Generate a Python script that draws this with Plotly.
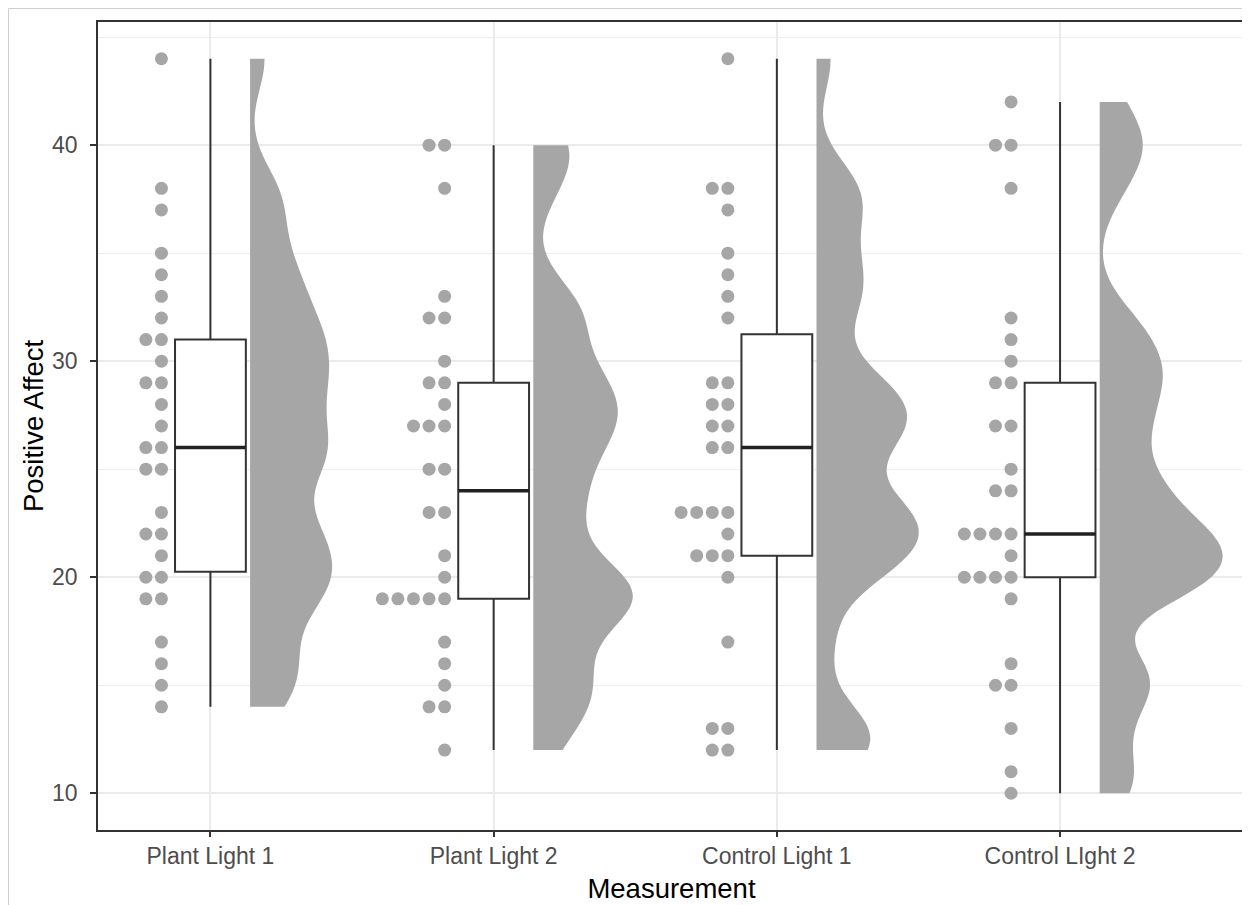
import numpy as np
import plotly.graph_objects as go
from collections import Counter

# ---------------- data ----------------
categories = ["Plant Light 1", "Plant Light 2", "Control Light 1", "Control LIght 2"]
plant_light_1 = [44, 38, 37, 35, 34, 33, 32, 31, 31, 30, 29, 29, 28, 27, 26, 26,
                 25, 25, 23, 22, 22, 21, 20, 20, 19, 19, 17, 16, 15, 14]
plant_light_2 = [40, 40, 38, 33, 32, 32, 30, 29, 29, 28, 27, 27, 27, 25, 25, 23,
                 23, 21, 20, 19, 19, 19, 19, 19, 17, 16, 15, 14, 14, 12]
control_light_1 = [44, 38, 38, 37, 35, 34, 33, 32, 29, 29, 28, 28, 27, 27, 26, 26,
                   23, 23, 23, 23, 22, 21, 21, 21, 20, 17, 13, 13, 12, 12]
control_light_2 = [42, 40, 40, 38, 32, 31, 30, 29, 29, 27, 27, 25, 24, 24, 22, 22,
                   22, 22, 21, 20, 20, 20, 20, 19, 16, 15, 15, 13, 11, 10]
groups = [plant_light_1, plant_light_2, control_light_1, control_light_2]
y_ticks = [10, 20, 30, 40]
y_minor = [15, 25, 35, 45]

# ---------------- style ----------------
GREY = "#A6A6A6"
DARK = "#333333"
FONT = "Liberation Sans, Arial, sans-serif"
BOX_W = 0.25
DOT_OFFSET = 0.173
DOT_STEP = 0.055
VIOLIN_OFFSET = 0.14
VIOLIN_W = 0.868          # full width allotted to the widest half-violin
BW_ADJUST = 0.45


def nrd0(arr):
    q1, q3 = np.percentile(arr, [25, 75])
    return 0.9 * min(arr.std(ddof=1), (q3 - q1) / 1.34) * len(arr) ** (-0.2)


def max_density(arr, bw):
    grid = np.linspace(arr.min(), arr.max(), 400)
    dens = np.exp(-0.5 * ((grid[:, None] - arr[None, :]) / bw) ** 2).sum(axis=1)
    return (dens / (len(arr) * bw * np.sqrt(2 * np.pi))).max()


arrays = [np.array(g, dtype=float) for g in groups]
bws = [BW_ADJUST * nrd0(a) for a in arrays]
peaks = [max_density(a, b) for a, b in zip(arrays, bws)]
peak_all = max(peaks)

fig = go.Figure()

for i, vals in enumerate(groups):
    pos = i + 1
    arr = arrays[i]
    q1, med, q3 = np.percentile(arr, [25, 50, 75])
    iqr = q3 - q1
    lo = arr[arr >= q1 - 1.5 * iqr].min()
    hi = arr[arr <= q3 + 1.5 * iqr].max()

    # half violin; width scaled so all densities share one scale (ggplot "area")
    fig.add_trace(go.Violin(
        x=[pos + VIOLIN_OFFSET] * len(vals), y=vals,
        side="positive", width=VIOLIN_W * peaks[i] / peak_all, bandwidth=bws[i],
        spanmode="hard", scalemode="width",
        fillcolor=GREY, line=dict(color=GREY, width=0),
        points=False, box_visible=False, meanline_visible=False,
        opacity=1, hoverinfo="skip", showlegend=False,
    ))

    # box
    fig.add_trace(go.Box(
        x=[pos], q1=[q1], median=[med], q3=[q3],
        lowerfence=[lo], upperfence=[hi],
        width=BOX_W, whiskerwidth=0, fillcolor="white",
        line=dict(color=DARK, width=2), boxpoints=False,
        hoverinfo="skip", showlegend=False,
    ))
    # thicker median
    fig.add_trace(go.Scatter(
        x=[pos - BOX_W / 2, pos + BOX_W / 2], y=[med, med], mode="lines",
        line=dict(color="#222222", width=3.5), hoverinfo="skip", showlegend=False,
    ))

    # stacked dots
    seen = Counter()
    xs = []
    for v in vals:
        k = seen[v]
        seen[v] += 1
        xs.append(pos - DOT_OFFSET - k * DOT_STEP)
    fig.add_trace(go.Scatter(
        x=xs, y=vals, mode="markers",
        marker=dict(color=GREY, size=13, line=dict(width=0)),
        hoverinfo="skip", showlegend=False,
    ))

# figure sized to fit inside the page's 8px body margin
W, H = 1242, 897
L, R, T, B = 90, 5, 14, 75
pw, ph = W - L - R, H - T - B

# outer frame (left and top edges visible)
fig.add_shape(type="rect", xref="paper", yref="paper",
              x0=(0.5 - L) / pw, x1=(W + 10 - L) / pw,
              y0=(H - B - (H + 10)) / ph, y1=(H - B - 0.5) / ph,
              line=dict(color="#CFCFCF", width=1), fillcolor="rgba(0,0,0,0)",
              layer="below")

fig.update_layout(
    width=W, height=H,
    margin=dict(l=L, r=R, t=T, b=B),
    paper_bgcolor="white", plot_bgcolor="white",
    showlegend=False,
    violinmode="overlay", boxmode="overlay",
    font=dict(family=FONT),
    xaxis=dict(
        range=[0.603, 4.653], tickmode="array", tickvals=[1, 2, 3, 4],
        ticktext=categories, showgrid=True, gridcolor="#EBEBEB", gridwidth=1.5,
        zeroline=False, showline=True, mirror=True, linecolor=DARK, linewidth=1.5,
        ticks="outside", ticklen=5, tickwidth=1.5, tickcolor=DARK,
        tickfont=dict(size=23, color="#4D4D4D", family=FONT),
        title=dict(text="Measurement", font=dict(size=27.5, color="black", family=FONT),
                   standoff=10),
        automargin=False,
    ),
    yaxis=dict(
        range=[8.3, 45.7], tickmode="array", tickvals=y_ticks,
        showgrid=True, gridcolor="#EBEBEB", gridwidth=1.5,
        minor=dict(tickmode="array", tickvals=y_minor, showgrid=True,
                   gridcolor="#EFEFEF", gridwidth=0.8, ticks=""),
        zeroline=False, showline=True, mirror=True, linecolor=DARK, linewidth=1.5,
        ticks="outside", ticklen=6, tickwidth=1.5, tickcolor=DARK,
        ticklabelstandoff=8,
        tickfont=dict(size=23, color="#4D4D4D", family=FONT),
        title=dict(text="Positive Affect", font=dict(size=27.5, color="black", family=FONT),
                   standoff=0),
        automargin=False,
    ),
)

fig.write_html("out.html")
